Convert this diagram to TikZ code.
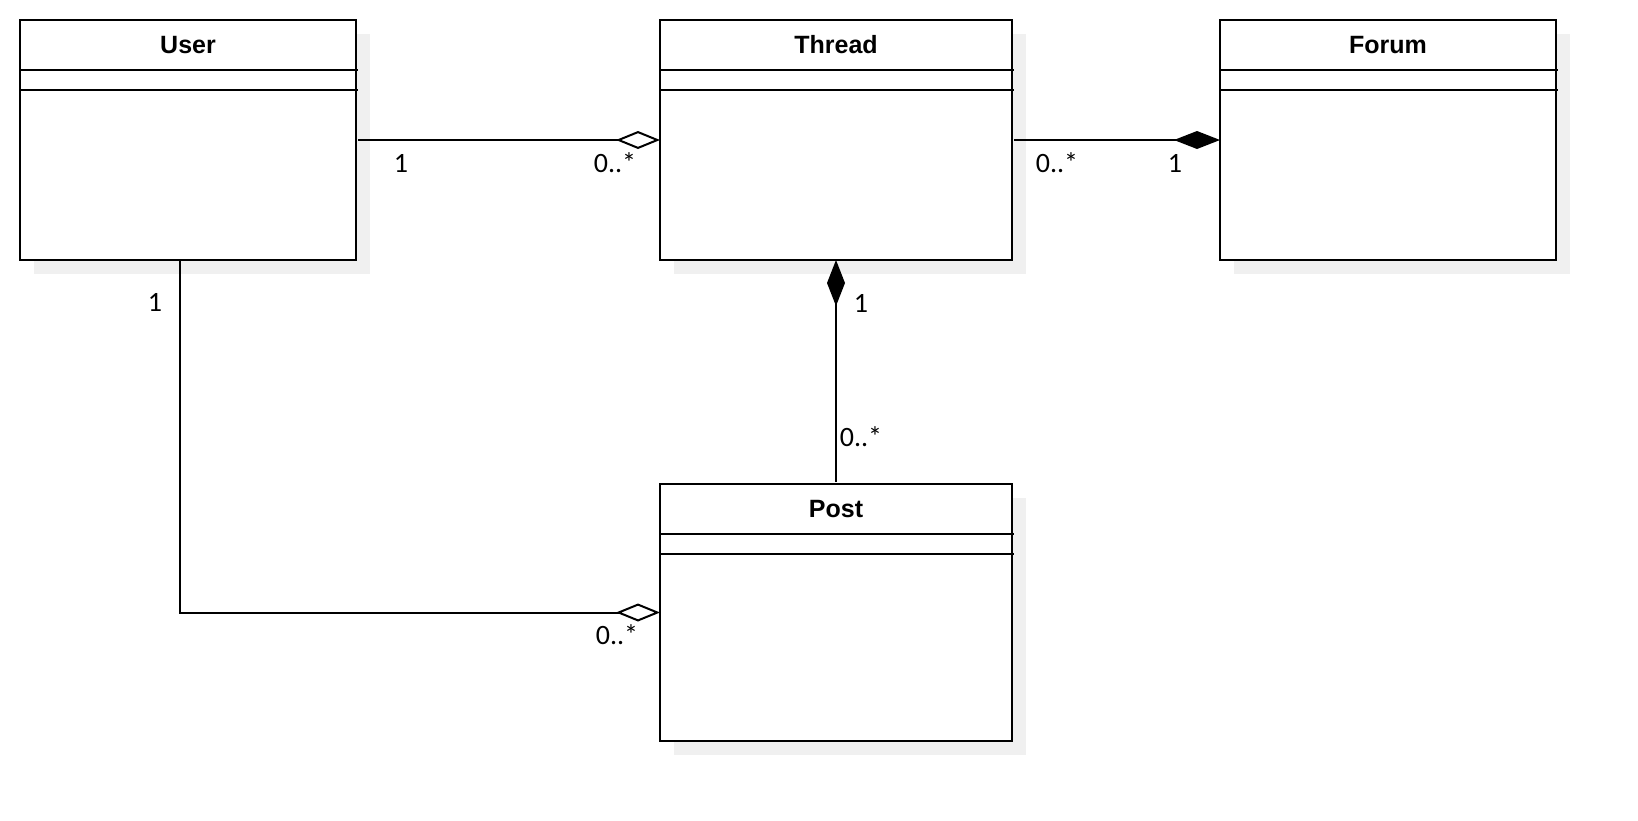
\documentclass[tikz,border=0pt]{standalone}
\usepackage{fontspec}
\setmainfont{Liberation Sans}
\newfontfamily\labfont{Carlito}
\usetikzlibrary{arrows.meta,calc}
\definecolor{shadowgray}{HTML}{F0F0F0}
\tikzset{
  clsbox/.style={draw, line width=2pt, fill=white, inner sep=0pt, outer sep=0pt, anchor=north west},
  clstitle/.style={font=\fontsize{25}{30}\selectfont\bfseries, inner sep=0pt},
  divider/.style={line width=2pt},
  conn/.style={line width=2pt},
  mult/.style={font=\labfont\fontsize{28}{32}\selectfont, inner sep=0pt},
  aggr/.style={-{Diamond[open,length=44pt,width=18pt,line width=2pt]}},
  comp/.style={-{Diamond[length=46pt,width=18pt]}},
}
\newcommand{\umlcls}[6]{% name, x, y, w, h, title
  \fill[shadowgray] (#2+14,#3+14) rectangle ++(#4,#5);
  \node[clsbox, minimum width=#4pt, minimum height=#5pt] (#1) at (#2,#3) {};
  \node[clstitle] (#1-title) at ($(#1.north)+(0,25)$) {#6};
  \draw[divider] ($(#1.north west)+(0,50)$) -- ($(#1.north east)+(2,50)$);
  \draw[divider] ($(#1.north west)+(0,70)$) -- ($(#1.north east)+(2,70)$);
}
\begin{document}
\begin{tikzpicture}[x=1pt,y=-1pt]
\useasboundingbox[fill=white] (0,0) rectangle (1638,820);
\umlcls{user}{20}{20}{336}{240}{User}
\umlcls{thread}{660}{20}{352}{240}{Thread}
\umlcls{forum}{1220}{20}{336}{240}{Forum}
\umlcls{post}{660}{484}{352}{257}{Post}

% User -- Thread (aggregation)
\draw[conn, aggr] ($(user.east)+(2,0)$) -- (thread.west);
% Thread -- Forum (composition)
\draw[conn, comp] ($(thread.east)+(2,0)$) -- (forum.west);
% Post -- Thread (composition)
\draw[line width=1.6pt, comp] ($(post.north)+(0,-2)$) -- (thread.south);
% User -- Post (aggregation)
\coordinate (ubot) at ($(user.south)+(-8,0)$);
\coordinate (ucorner) at (ubot |- post.west);
\draw[conn, aggr] (ubot) -- (ucorner) -- (post.west);

% multiplicities
\node[mult] (m1) at (401,163) {1};
\node[mult] (m2) at (615,163) {0..*};
\node[mult] (m3) at (1057,163) {0..*};
\node[mult] (m4) at (1175,163) {1};
\node[mult] (m5) at (861,303) {1};
\node[mult] (m6) at (861,437) {0..*};
\node[mult] (m7) at (155,302) {1};
\node[mult] (m8) at (617,635) {0..*};
\end{tikzpicture}
\end{document}
